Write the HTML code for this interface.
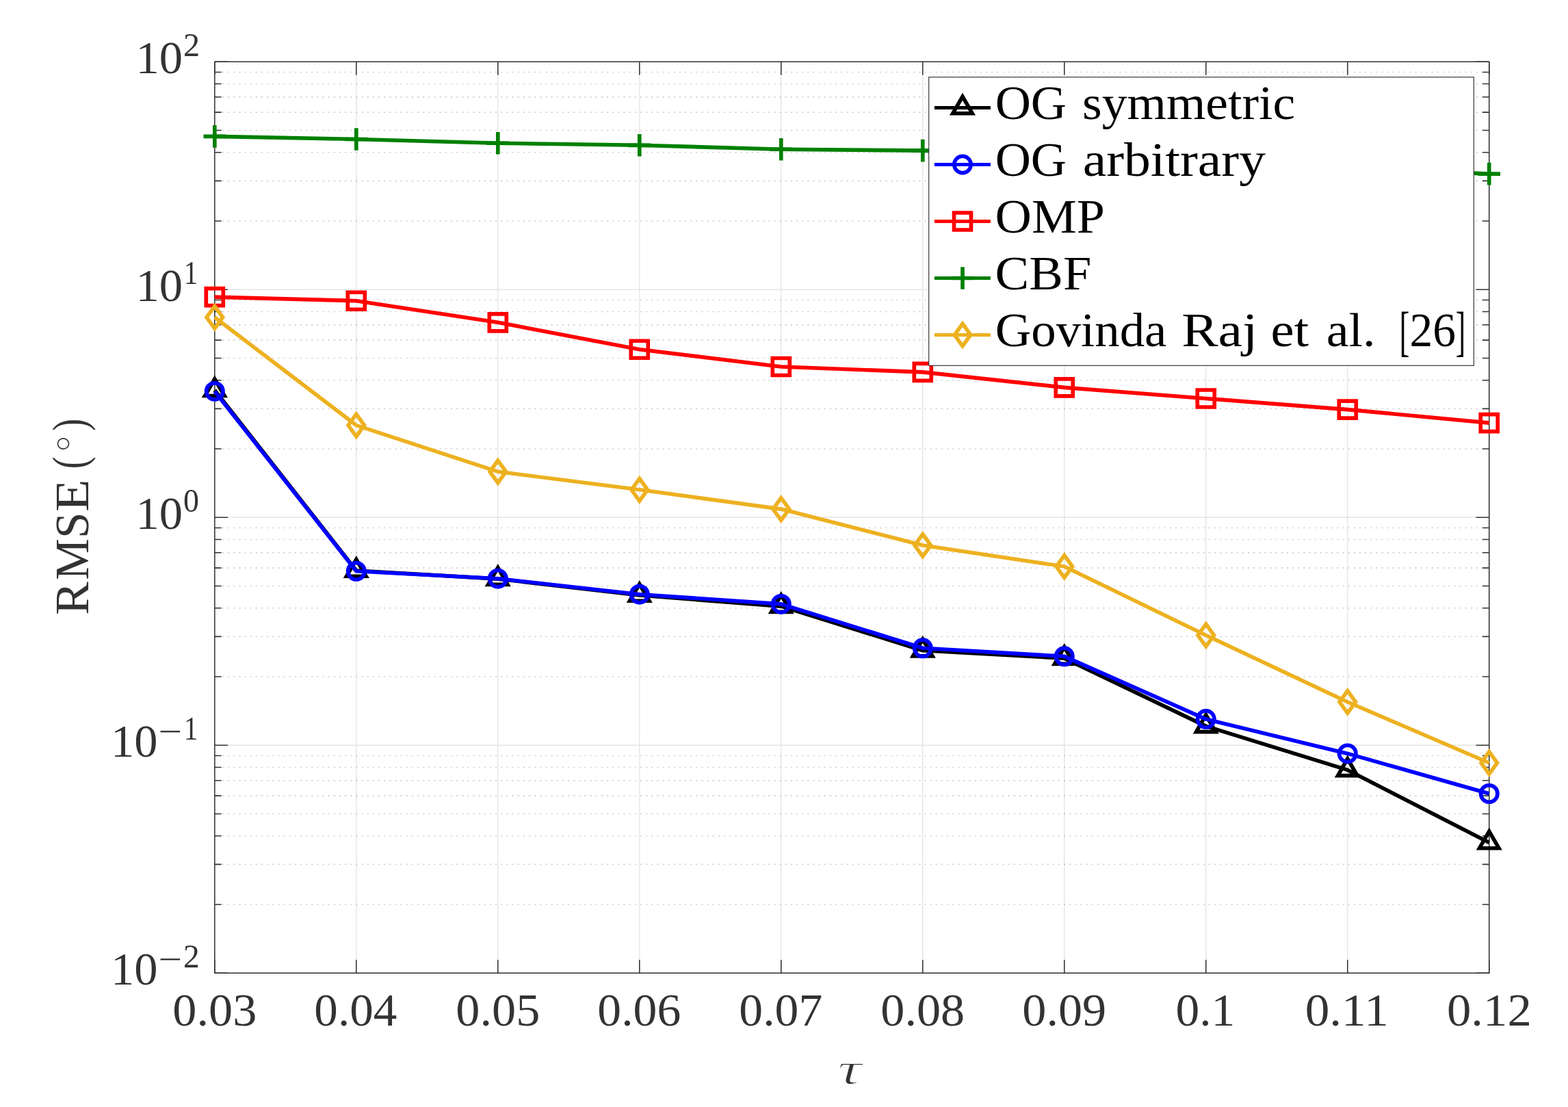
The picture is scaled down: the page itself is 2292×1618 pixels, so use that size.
<!DOCTYPE html>
<html lang="en"><head><meta charset="utf-8"><title>RMSE versus tau</title>
<style>html,body{margin:0;padding:0;background:#fff}body{width:2292px;height:1618px;overflow:hidden}svg{display:block}text{font-family:"Liberation Serif","DejaVu Serif",serif;white-space:pre}</style></head><body>
<svg width="2292" height="1618" viewBox="0 0 2292 1618">
<rect x="0" y="0" width="2292" height="1618" fill="#fff"/>
<g id="minor-grid" stroke="#262626" stroke-opacity="0.23" stroke-width="1.6" stroke-dasharray="2 6.147" fill="none">
<path d="M316.79 1322.01H2166.95"/>
<path d="M316.79 1263.37H2166.95"/>
<path d="M316.79 1221.76H2166.95"/>
<path d="M316.79 1189.49H2166.95"/>
<path d="M316.79 1163.13H2166.95"/>
<path d="M316.79 1140.83H2166.95"/>
<path d="M316.79 1121.52H2166.95"/>
<path d="M316.79 1104.49H2166.95"/>
<path d="M316.79 989.01H2166.95"/>
<path d="M316.79 930.37H2166.95"/>
<path d="M316.79 888.76H2166.95"/>
<path d="M316.79 856.49H2166.95"/>
<path d="M316.79 830.13H2166.95"/>
<path d="M316.79 807.83H2166.95"/>
<path d="M316.79 788.52H2166.95"/>
<path d="M316.79 771.49H2166.95"/>
<path d="M316.79 656.01H2166.95"/>
<path d="M316.79 597.37H2166.95"/>
<path d="M316.79 555.76H2166.95"/>
<path d="M316.79 523.49H2166.95"/>
<path d="M316.79 497.13H2166.95"/>
<path d="M316.79 474.83H2166.95"/>
<path d="M316.79 455.52H2166.95"/>
<path d="M316.79 438.49H2166.95"/>
<path d="M316.79 323.01H2166.95"/>
<path d="M316.79 264.37H2166.95"/>
<path d="M316.79 222.76H2166.95"/>
<path d="M316.79 190.49H2166.95"/>
<path d="M316.79 164.13H2166.95"/>
<path d="M316.79 141.83H2166.95"/>
<path d="M316.79 122.52H2166.95"/>
<path d="M316.79 105.49H2166.95"/>
</g>
<g id="major-grid" stroke="#262626" opacity="0.12" stroke-width="1.4" fill="none">
<path d="M520.79 110.65V1401.85M727.79 110.65V1401.85M934.78 110.65V1401.85M1141.78 110.65V1401.85M1348.77 110.65V1401.85M1555.77 110.65V1401.85M1762.76 110.65V1401.85M1969.76 110.65V1401.85M334.20 423.25H2156.35M334.20 756.25H2156.35M334.20 1089.25H2156.35"/>
</g>
<g id="axes" stroke="#333333" stroke-width="1.55" fill="none" stroke-linecap="butt">
<path d="M313.80 1422.25v-19.40M313.80 90.25v19.40M520.79 1422.25v-19.40M520.79 90.25v19.40M727.79 1422.25v-19.40M727.79 90.25v19.40M934.78 1422.25v-19.40M934.78 90.25v19.40M1141.78 1422.25v-19.40M1141.78 90.25v19.40M1348.77 1422.25v-19.40M1348.77 90.25v19.40M1555.77 1422.25v-19.40M1555.77 90.25v19.40M1762.76 1422.25v-19.40M1762.76 90.25v19.40M1969.76 1422.25v-19.40M1969.76 90.25v19.40M2176.75 1422.25v-19.40M2176.75 90.25v19.40M313.80 90.25h19.40M2176.75 90.25h-19.40M313.80 423.25h19.40M2176.75 423.25h-19.40M313.80 756.25h19.40M2176.75 756.25h-19.40M313.80 1089.25h19.40M2176.75 1089.25h-19.40M313.80 1422.25h19.40M2176.75 1422.25h-19.40M313.80 1322.01h9.80M2176.75 1322.01h-9.80M313.80 1263.37h9.80M2176.75 1263.37h-9.80M313.80 1221.76h9.80M2176.75 1221.76h-9.80M313.80 1189.49h9.80M2176.75 1189.49h-9.80M313.80 1163.13h9.80M2176.75 1163.13h-9.80M313.80 1140.83h9.80M2176.75 1140.83h-9.80M313.80 1121.52h9.80M2176.75 1121.52h-9.80M313.80 1104.49h9.80M2176.75 1104.49h-9.80M313.80 989.01h9.80M2176.75 989.01h-9.80M313.80 930.37h9.80M2176.75 930.37h-9.80M313.80 888.76h9.80M2176.75 888.76h-9.80M313.80 856.49h9.80M2176.75 856.49h-9.80M313.80 830.13h9.80M2176.75 830.13h-9.80M313.80 807.83h9.80M2176.75 807.83h-9.80M313.80 788.52h9.80M2176.75 788.52h-9.80M313.80 771.49h9.80M2176.75 771.49h-9.80M313.80 656.01h9.80M2176.75 656.01h-9.80M313.80 597.37h9.80M2176.75 597.37h-9.80M313.80 555.76h9.80M2176.75 555.76h-9.80M313.80 523.49h9.80M2176.75 523.49h-9.80M313.80 497.13h9.80M2176.75 497.13h-9.80M313.80 474.83h9.80M2176.75 474.83h-9.80M313.80 455.52h9.80M2176.75 455.52h-9.80M313.80 438.49h9.80M2176.75 438.49h-9.80M313.80 323.01h9.80M2176.75 323.01h-9.80M313.80 264.37h9.80M2176.75 264.37h-9.80M313.80 222.76h9.80M2176.75 222.76h-9.80M313.80 190.49h9.80M2176.75 190.49h-9.80M313.80 164.13h9.80M2176.75 164.13h-9.80M313.80 141.83h9.80M2176.75 141.83h-9.80M313.80 122.52h9.80M2176.75 122.52h-9.80M313.80 105.49h9.80M2176.75 105.49h-9.80"/>
<rect x="313.80" y="90.25" width="1862.95" height="1332.00"/>
</g>
<g id="series" fill="none" stroke-width="5.65" stroke-linejoin="miter" stroke-miterlimit="10" stroke-linecap="butt">
<g id="og-symmetric" stroke="#000000">
<polyline points="313.80,570.30 520.79,834.00 727.79,846.10 934.78,870.00 1141.78,886.10 1348.77,950.70 1555.77,962.10 1762.76,1061.40 1969.76,1125.40 2176.75,1231.50" stroke-linejoin="round"/>
<path d="M313.80 553.90L328.00 578.50L299.60 578.50ZM520.79 817.60L534.99 842.20L506.59 842.20ZM727.79 829.70L741.99 854.30L713.59 854.30ZM934.78 853.60L948.98 878.20L920.58 878.20ZM1141.78 869.70L1155.98 894.30L1127.58 894.30ZM1348.77 934.30L1362.97 958.90L1334.57 958.90ZM1555.77 945.70L1569.97 970.30L1541.57 970.30ZM1762.76 1045.00L1776.96 1069.60L1748.56 1069.60ZM1969.76 1109.00L1983.96 1133.60L1955.56 1133.60ZM2176.75 1215.10L2190.95 1239.70L2162.55 1239.70Z"/>
</g>
<g id="og-arbitrary" stroke="#0000ff">
<polyline points="313.80,571.90 520.79,834.80 727.79,845.70 934.78,868.70 1141.78,882.90 1348.77,947.30 1555.77,959.30 1762.76,1051.10 1969.76,1101.40 2176.75,1160.00" stroke-linejoin="round"/>
<path d="M301.60 571.90a12.2 12.2 0 1 0 24.4 0a12.2 12.2 0 1 0 -24.4 0ZM508.59 834.80a12.2 12.2 0 1 0 24.4 0a12.2 12.2 0 1 0 -24.4 0ZM715.59 845.70a12.2 12.2 0 1 0 24.4 0a12.2 12.2 0 1 0 -24.4 0ZM922.58 868.70a12.2 12.2 0 1 0 24.4 0a12.2 12.2 0 1 0 -24.4 0ZM1129.58 882.90a12.2 12.2 0 1 0 24.4 0a12.2 12.2 0 1 0 -24.4 0ZM1336.57 947.30a12.2 12.2 0 1 0 24.4 0a12.2 12.2 0 1 0 -24.4 0ZM1543.57 959.30a12.2 12.2 0 1 0 24.4 0a12.2 12.2 0 1 0 -24.4 0ZM1750.56 1051.10a12.2 12.2 0 1 0 24.4 0a12.2 12.2 0 1 0 -24.4 0ZM1957.56 1101.40a12.2 12.2 0 1 0 24.4 0a12.2 12.2 0 1 0 -24.4 0ZM2164.55 1160.00a12.2 12.2 0 1 0 24.4 0a12.2 12.2 0 1 0 -24.4 0Z"/>
</g>
<g id="omp" stroke="#ff0000">
<polyline points="313.80,434.10 520.79,439.70 727.79,471.30 934.78,510.70 1141.78,536.00 1348.77,543.90 1555.77,566.40 1762.76,582.50 1969.76,598.60 2176.75,618.10" stroke-linejoin="round"/>
<path d="M301.30 421.60h25v25h-25ZM508.29 427.20h25v25h-25ZM715.29 458.80h25v25h-25ZM922.28 498.20h25v25h-25ZM1129.28 523.50h25v25h-25ZM1336.27 531.40h25v25h-25ZM1543.27 553.90h25v25h-25ZM1750.26 570.00h25v25h-25ZM1957.26 586.10h25v25h-25ZM2164.25 605.60h25v25h-25Z"/>
</g>
<g id="cbf" stroke="#008000">
<polyline points="313.80,199.40 520.79,203.50 727.79,209.20 934.78,212.30 1141.78,218.20 1348.77,220.10 1555.77,228.50 1762.76,237.00 1969.76,245.60 2176.75,254.10" stroke-linejoin="round"/>
<path d="M297.50 199.40h32.6M313.80 183.10v32.6M504.49 203.50h32.6M520.79 187.20v32.6M711.49 209.20h32.6M727.79 192.90v32.6M918.48 212.30h32.6M934.78 196.00v32.6M1125.48 218.20h32.6M1141.78 201.90v32.6M1332.47 220.10h32.6M1348.77 203.80v32.6M1539.47 228.50h32.6M1555.77 212.20v32.6M1746.46 237.00h32.6M1762.76 220.70v32.6M1953.46 245.60h32.6M1969.76 229.30v32.6M2160.45 254.10h32.6M2176.75 237.80v32.6"/>
</g>
<g id="govinda" stroke="#edb120">
<polyline points="313.80,463.80 520.79,621.60 727.79,689.40 934.78,715.80 1141.78,744.10 1348.77,797.00 1555.77,828.00 1762.76,928.50 1969.76,1026.00 2176.75,1115.00" stroke-linejoin="round"/>
<path d="M313.80 447.50L325.60 463.80L313.80 480.10L302.00 463.80ZM520.79 605.30L532.59 621.60L520.79 637.90L508.99 621.60ZM727.79 673.10L739.59 689.40L727.79 705.70L715.99 689.40ZM934.78 699.50L946.58 715.80L934.78 732.10L922.98 715.80ZM1141.78 727.80L1153.58 744.10L1141.78 760.40L1129.98 744.10ZM1348.77 780.70L1360.57 797.00L1348.77 813.30L1336.97 797.00ZM1555.77 811.70L1567.57 828.00L1555.77 844.30L1543.97 828.00ZM1762.76 912.20L1774.56 928.50L1762.76 944.80L1750.96 928.50ZM1969.76 1009.70L1981.56 1026.00L1969.76 1042.30L1957.96 1026.00ZM2176.75 1098.70L2188.55 1115.00L2176.75 1131.30L2164.95 1115.00Z"/>
</g>
</g>
<g id="legend">
<rect x="1357.70" y="112.75" width="796.60" height="421.55" fill="#fff" stroke="#262626" stroke-width="1.1"/>
<g fill="none" stroke-width="5.65" stroke-linejoin="miter" stroke-miterlimit="10">
<path stroke="#000000" stroke-width="5" d="M1365.9 157.50H1447.9"/>
<path stroke="#000000" d="M1407.00 141.10L1421.20 165.70L1392.80 165.70Z"/>
<path stroke="#0000ff" stroke-width="5" d="M1365.9 240.50H1447.9"/>
<path stroke="#0000ff" d="M1394.80 240.50a12.2 12.2 0 1 0 24.4 0a12.2 12.2 0 1 0 -24.4 0Z"/>
<path stroke="#ff0000" stroke-width="5" d="M1365.9 323.50H1447.9"/>
<path stroke="#ff0000" d="M1394.50 311.00h25v25h-25Z"/>
<path stroke="#008000" stroke-width="5" d="M1365.9 406.50H1447.9"/>
<path stroke="#008000" d="M1390.70 406.50h32.6M1407.00 390.20v32.6"/>
<path stroke="#edb120" stroke-width="5" d="M1365.9 489.50H1447.9"/>
<path stroke="#edb120" d="M1407.00 473.20L1418.80 489.50L1407.00 505.80L1395.20 489.50Z"/>
</g>
<g id="legend-labels">
<text font-size="70" fill="#000000"><tspan x="1454.7" y="173.6" textLength="104.37" lengthAdjust="spacingAndGlyphs">OG</tspan> <tspan x="1581.94" y="173.6" textLength="311.38" lengthAdjust="spacingAndGlyphs">symmetric</tspan></text>
<text font-size="70" fill="#000000"><tspan x="1454.7" y="256.9" textLength="104.37" lengthAdjust="spacingAndGlyphs">OG</tspan> <tspan x="1582.67" y="256.9" textLength="267.39" lengthAdjust="spacingAndGlyphs">arbitrary</tspan></text>
<text font-size="70" fill="#000000"><tspan x="1454.63" y="339.9" textLength="160.36" lengthAdjust="spacingAndGlyphs">OMP</tspan></text>
<text font-size="70" fill="#000000"><tspan x="1454.61" y="422.6" textLength="140.75" lengthAdjust="spacingAndGlyphs">CBF</tspan></text>
<text font-size="70" fill="#000000"><tspan x="1454.68" y="505.6" textLength="250.74" lengthAdjust="spacingAndGlyphs">Govinda</tspan> <tspan x="1727.32" y="505.6" textLength="110.98" lengthAdjust="spacingAndGlyphs">Raj</tspan> <tspan x="1857.6" y="505.6" textLength="55.58" lengthAdjust="spacingAndGlyphs">et</tspan> <tspan x="1938.73" y="505.6" textLength="71.89" lengthAdjust="spacingAndGlyphs">al.</tspan> <tspan x="2045.53" y="510.5" textLength="14.95" lengthAdjust="spacingAndGlyphs" font-size="80">[</tspan><tspan x="2060.51" y="505.6" textLength="67.42" lengthAdjust="spacingAndGlyphs">26</tspan><tspan x="2127.77" y="510.5" textLength="14.5" lengthAdjust="spacingAndGlyphs" font-size="80">]</tspan></text>
</g></g>
<g id="x-tick-labels">
<text font-size="68" fill="#333333"><tspan x="252.3" y="1499.2" textLength="123" lengthAdjust="spacingAndGlyphs">0.03</tspan></text>
<text font-size="68" fill="#333333"><tspan x="459.35" y="1499.2" textLength="120.86" lengthAdjust="spacingAndGlyphs">0.04</tspan></text>
<text font-size="68" fill="#333333"><tspan x="666.29" y="1499.2" textLength="123" lengthAdjust="spacingAndGlyphs">0.05</tspan></text>
<text font-size="68" fill="#333333"><tspan x="873.31" y="1499.2" textLength="121.92" lengthAdjust="spacingAndGlyphs">0.06</tspan></text>
<text font-size="68" fill="#333333"><tspan x="1080.3" y="1499.2" textLength="121.92" lengthAdjust="spacingAndGlyphs">0.07</tspan></text>
<text font-size="68" fill="#333333"><tspan x="1287.27" y="1499.2" textLength="123" lengthAdjust="spacingAndGlyphs">0.08</tspan></text>
<text font-size="68" fill="#333333"><tspan x="1494.27" y="1499.2" textLength="123" lengthAdjust="spacingAndGlyphs">0.09</tspan></text>
<text font-size="68" fill="#333333"><tspan x="1718.43" y="1499.2" textLength="86.96" lengthAdjust="spacingAndGlyphs">0.1</tspan></text>
<text font-size="68" fill="#333333"><tspan x="1907.65" y="1499.2" textLength="122.15" lengthAdjust="spacingAndGlyphs">0.11</tspan></text>
<text font-size="68" fill="#333333"><tspan x="2114.98" y="1499.2" textLength="123.78" lengthAdjust="spacingAndGlyphs">0.12</tspan></text>
</g>
<g id="y-tick-labels">
<text fill="#333333"><tspan x="198.55" y="107.05" textLength="68.58" lengthAdjust="spacingAndGlyphs" font-size="68">10</tspan><tspan x="267.97" y="82.25" textLength="24.13" lengthAdjust="spacingAndGlyphs" font-size="47.5">2</tspan></text>
<text fill="#333333"><tspan x="198.55" y="440.05" textLength="68.58" lengthAdjust="spacingAndGlyphs" font-size="68">10</tspan><tspan x="268.84" y="415.25" textLength="20.54" lengthAdjust="spacingAndGlyphs" font-size="47.5">1</tspan></text>
<text fill="#333333"><tspan x="198.55" y="773.05" textLength="68.58" lengthAdjust="spacingAndGlyphs" font-size="68">10</tspan><tspan x="268.07" y="748.25" textLength="22.92" lengthAdjust="spacingAndGlyphs" font-size="47.5">0</tspan></text>
<text fill="#333333"><tspan x="162.06" y="1106.05" textLength="68.46" lengthAdjust="spacingAndGlyphs" font-size="68">10</tspan><tspan x="231.71" y="1085.45" textLength="34.71" lengthAdjust="spacingAndGlyphs" font-size="47.5">−</tspan><tspan x="268.84" y="1081.25" textLength="20.54" lengthAdjust="spacingAndGlyphs" font-size="47.5">1</tspan></text>
<text fill="#333333"><tspan x="162.06" y="1439.05" textLength="68.46" lengthAdjust="spacingAndGlyphs" font-size="68">10</tspan><tspan x="231.71" y="1418.45" textLength="34.71" lengthAdjust="spacingAndGlyphs" font-size="47.5">−</tspan><tspan x="268" y="1414.25" textLength="23.75" lengthAdjust="spacingAndGlyphs" font-size="47.5">2</tspan></text>
</g>
<g id="axis-labels">
<text transform="translate(128.9 896.9) rotate(-90)" fill="#333333"><tspan x="-1.77" y="0" textLength="48.26" lengthAdjust="spacingAndGlyphs" font-size="70">R</tspan><tspan x="49.26" y="0" textLength="60.53" lengthAdjust="spacingAndGlyphs" font-size="70">M</tspan><tspan x="110.13" y="0" textLength="37.9" lengthAdjust="spacingAndGlyphs" font-size="70">S</tspan><tspan x="148.98" y="0" textLength="47.5" lengthAdjust="spacingAndGlyphs" font-size="70">E</tspan> <tspan x="211.62" y="-4" textLength="17.74" lengthAdjust="spacingAndGlyphs" font-size="70">(</tspan><tspan x="236.49" y="-5" textLength="24.01" lengthAdjust="spacingAndGlyphs" font-size="62" stroke="#fff" stroke-width="1.3" paint-order="fill stroke">°</tspan><tspan x="267.28" y="-4" textLength="17.74" lengthAdjust="spacingAndGlyphs" font-size="70">)</tspan></text>
<text fill="#333333"><tspan x="1224.64" y="1583.8" textLength="34.92" lengthAdjust="spacingAndGlyphs" font-size="66" style="font-style:italic" stroke="#fff" stroke-width="1.4" paint-order="fill stroke">τ</tspan></text>
</g>
</svg></body></html>
